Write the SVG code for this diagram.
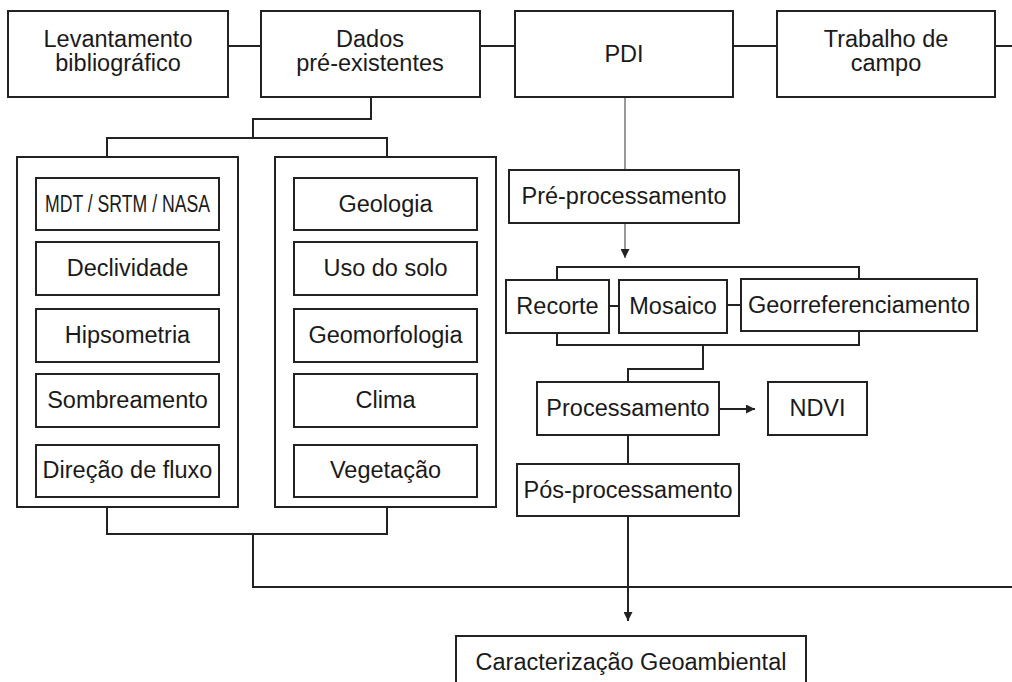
<svg xmlns="http://www.w3.org/2000/svg" width="1012" height="682" viewBox="0 0 1012 682">
<defs>
<style>
.box{fill:#fff;stroke:#222;stroke-width:2}
.t{font-family:"Liberation Sans",Arial,sans-serif;font-size:23.5px;fill:#1a1a1a;text-anchor:middle}
.c{fill:none;stroke:#222;stroke-width:2}
.thin{fill:none;stroke:#555;stroke-width:1.2}
</style>
<marker id="ah" viewBox="0 0 10 10" refX="10" refY="5" markerWidth="10" markerHeight="9" markerUnits="userSpaceOnUse" orient="auto">
<path d="M0,0 L10,5 L0,10 z" fill="#222"/>
</marker>
</defs>
<rect width="1012" height="682" fill="#fff"/>
<g id="connectors">
<path class="c" d="M228,46 H261 M480,46 H515 M733,46 H777 M995,46 H1012"/>
<path class="c" d="M371,97 V119 H253 V138 M107,157 V138 H387 V157"/>
<path class="thin" d="M625,97 V170"/>
<path class="thin" d="M625,223 V258" marker-end="url(#ah)"/>
<path class="c" d="M557,280 V267 H859 V279"/>
<path class="c" d="M609,306 H619 M727,305 H741"/>
<path class="c" d="M557,333 V345 H859 V331 M703,345 V369 H628 V382"/>
<path class="c" d="M719,409 H755" marker-end="url(#ah)"/>
<path class="c" d="M628,435 V464"/>
<path class="c" d="M628,516 V621" marker-end="url(#ah)"/>
<path class="c" d="M107,507 V534 H387 V507 M253,534 V587 H1012"/>
</g>
<g id="levantamento"><rect class="box" x="8" y="11" width="220" height="86"/><text class="t" x="118" y="47">Levantamento</text><text class="t" x="118" y="71">bibliográfico</text></g>
<g id="dados"><rect class="box" x="261" y="11" width="219" height="86"/><text class="t" x="370" y="47">Dados</text><text class="t" x="370" y="71">pré-existentes</text></g>
<g id="pdi"><rect class="box" x="515" y="11" width="218" height="86"/><text class="t" x="624" y="62">PDI</text></g>
<g id="trabalho"><rect class="box" x="777" y="11" width="218" height="86"/><text class="t" x="886" y="47">Trabalho de</text><text class="t" x="886" y="71">campo</text></g>
<g id="grupo-esq"><rect class="box" x="17" y="157" width="221" height="350"/></g>
<g id="grupo-dir"><rect class="box" x="275" y="157" width="221" height="350"/></g>
<g id="mdt"><rect class="box" x="36" y="178" width="183" height="52"/><text class="t" x="127.5" y="212" textLength="165" lengthAdjust="spacingAndGlyphs">MDT / SRTM / NASA</text></g>
<g id="declividade"><rect class="box" x="36" y="242" width="183" height="53"/><text class="t" x="127.5" y="276">Declividade</text></g>
<g id="hipsometria"><rect class="box" x="36" y="309" width="183" height="53"/><text class="t" x="127.5" y="343">Hipsometria</text></g>
<g id="sombreamento"><rect class="box" x="36" y="374" width="183" height="53"/><text class="t" x="127.5" y="408">Sombreamento</text></g>
<g id="direcao"><rect class="box" x="36" y="445" width="183" height="52"/><text class="t" x="127.5" y="478">Direção de fluxo</text></g>
<g id="geologia"><rect class="box" x="294" y="178" width="183" height="52"/><text class="t" x="385.5" y="212">Geologia</text></g>
<g id="uso"><rect class="box" x="294" y="242" width="183" height="53"/><text class="t" x="385.5" y="276">Uso do solo</text></g>
<g id="geomorfologia"><rect class="box" x="294" y="309" width="183" height="53"/><text class="t" x="385.5" y="343">Geomorfologia</text></g>
<g id="clima"><rect class="box" x="294" y="374" width="183" height="53"/><text class="t" x="385.5" y="408">Clima</text></g>
<g id="vegetacao"><rect class="box" x="294" y="445" width="183" height="52"/><text class="t" x="385.5" y="478">Vegetação</text></g>
<g id="pre"><rect class="box" x="509" y="170" width="230" height="53"/><text class="t" x="624" y="204">Pré-processamento</text></g>
<g id="recorte"><rect class="box" x="506" y="280" width="103" height="53"/><text class="t" x="557.5" y="314">Recorte</text></g>
<g id="mosaico"><rect class="box" x="619" y="280" width="108" height="53"/><text class="t" x="673" y="314">Mosaico</text></g>
<g id="georref"><rect class="box" x="741" y="279" width="236" height="52"/><text class="t" x="859" y="313">Georreferenciamento</text></g>
<g id="processamento"><rect class="box" x="537" y="382" width="182" height="53"/><text class="t" x="628" y="416">Processamento</text></g>
<g id="ndvi"><rect class="box" x="768" y="382" width="99" height="53"/><text class="t" x="817.5" y="416">NDVI</text></g>
<g id="pos"><rect class="box" x="517" y="464" width="222" height="52"/><text class="t" x="628" y="498">Pós-processamento</text></g>
<g id="caracterizacao"><rect class="box" x="456" y="636" width="350" height="60"/><text class="t" x="631" y="670">Caracterização Geoambiental</text></g>
</svg>
